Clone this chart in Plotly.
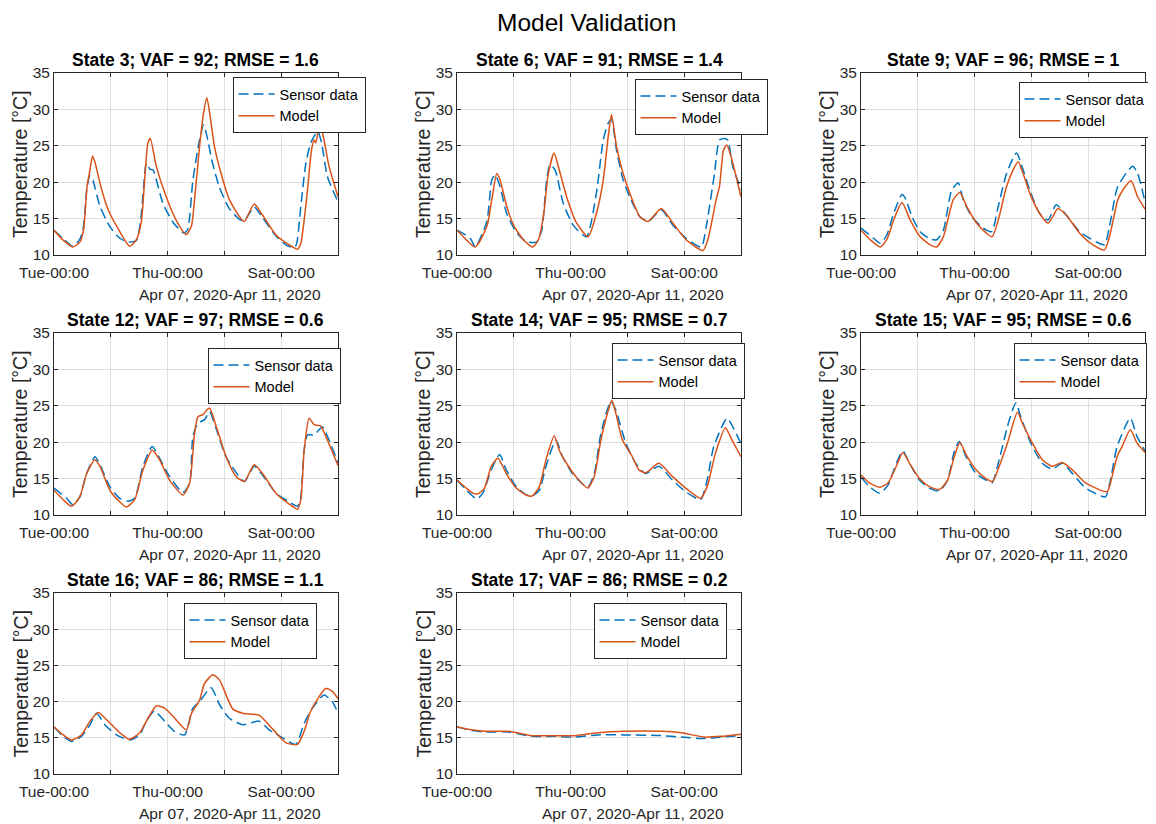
import pandas as pd
import plotly.graph_objects as go

# ---------------- data ----------------
states = [3, 6, 9, 12, 14, 15, 16, 17]
vaf = [92, 91, 96, 97, 95, 95, 86, 86]
rmse = [1.6, 1.4, 1, 0.6, 0.7, 0.6, 1.1, 0.2]

tick_days = ["2020-04-07", "2020-04-08", "2020-04-09", "2020-04-10", "2020-04-11"]
tick_text = ["Tue-00:00", "", "Thu-00:00", "", "Sat-00:00"]
y_ticks = [10, 15, 20, 25, 30, 35]
date_range_label = "Apr 07, 2020-Apr 11, 2020"

# hours since Tue Apr 07 2020 00:00, temperature in degC
s3_sensor_h = [0, 4, 8, 11, 12.5, 14, 15.2, 16.5, 19.4, 23.6, 27.8, 31.3, 34.8, 36.5, 37.8, 39, 40.5, 41.8, 46, 50.5, 55, 56.5, 58.7, 61.5, 63.2, 64.5, 67, 69.8, 74, 78.3, 80.4, 84.6, 88, 93.8, 98, 101.5, 102.5, 104.3, 106.4, 108.5, 111.4, 113, 115.5, 120]
s3_sensor_t = [13.4, 12.2, 11.2, 12.2, 14.0, 19.4, 20.9, 20.2, 16.7, 13.9, 12.3, 11.8, 12.0, 14.5, 19.0, 22.6, 21.8, 21.7, 17.1, 14.4, 13.0, 13.5, 20.3, 25.8, 27.9, 26.5, 22.6, 19.4, 16.4, 14.9, 14.7, 16.6, 15.2, 12.6, 11.4, 11.0, 11.5, 16.7, 22.6, 25.4, 27.0, 25.5, 20.8, 17.3]
s3_model_h = [0, 4, 8, 11, 12.5, 14, 15, 16.3, 17.5, 19.4, 21.5, 23.6, 27.8, 30, 32, 34.8, 36.9, 38.3, 39.7, 40.7, 43.2, 47.4, 51.6, 55.9, 58, 59.4, 61.5, 63.2, 64.6, 66, 67.8, 70.6, 74.1, 78.3, 80.4, 84.6, 88.1, 93.8, 99.4, 102.9, 104.3, 105.7, 107.1, 108.8, 109.9, 110.6, 112.3, 114.1, 116.2, 120]
s3_model_t = [13.4, 12.0, 11.1, 11.8, 13.5, 19.5, 21.3, 23.6, 22.5, 19.9, 17.5, 15.7, 13.2, 12.0, 11.2, 12.1, 14.6, 20.3, 25.4, 26.0, 22.2, 18.0, 14.8, 12.8, 13.9, 17.6, 24.9, 29.5, 31.6, 29.0, 24.9, 21.2, 17.6, 15.3, 14.6, 17.0, 15.5, 12.75, 11.4, 10.8, 11.6, 14.8, 18.9, 24.4, 25.8, 25.4, 28.1, 25.8, 22.2, 18.0]

s6_sensor_h = [0, 5.6, 7.7, 12.6, 14.7, 16.1, 18.2, 21, 25.3, 29.5, 33.7, 35.8, 37.9, 39.3, 41.4, 44.9, 49.1, 54.7, 58.9, 61.8, 63.9, 65.3, 67.4, 70.2, 73, 77.2, 80.7, 86.3, 91.2, 96.8, 103.2, 105.3, 108.8, 110.9, 113, 114.4, 116.5, 120]
s6_sensor_t = [13.4, 12.3, 11.1, 14.6, 20.3, 21.0, 19.4, 15.7, 13.0, 11.8, 11.8, 13.4, 20.3, 22.4, 21.7, 17.1, 14.1, 12.5, 18.5, 25.8, 28.1, 28.6, 24.4, 20.3, 18.0, 15.3, 14.6, 16.2, 14.1, 12.3, 11.1, 13.9, 21.2, 25.8, 26.0, 25.8, 22.2, 19.0]
s6_model_h = [0, 3, 7.7, 12.6, 14.7, 16.8, 18.2, 21, 23.9, 28, 32, 34.4, 36.5, 38.6, 41, 42.8, 46.3, 50.5, 55.4, 58.9, 61.8, 63.9, 65.3, 67.4, 70.2, 73, 77.2, 80.7, 86.3, 91.2, 96.8, 103.9, 106, 109.5, 110.9, 112.6, 114, 115.8, 120]
s6_model_t = [13.4, 12.4, 11.1, 13.9, 17.6, 21.2, 20.3, 16.7, 14.1, 12.1, 11.1, 12.1, 15.3, 21.2, 24.0, 22.2, 18.0, 14.4, 12.5, 15.7, 20.3, 26.3, 29.3, 24.9, 21.2, 18.5, 15.3, 14.6, 16.4, 14.4, 12.1, 10.6, 12.1, 17.6, 19.4, 24.4, 25.1, 23.5, 18.0]

s9_sensor_h = [0, 5.3, 8.1, 10.9, 13.8, 17.3, 18.7, 21.5, 25, 29.2, 32, 34.8, 38.3, 41.1, 43.2, 46.7, 51.6, 55.2, 58, 61.5, 65.7, 68.5, 71.3, 75.5, 79, 82.5, 86.7, 92.4, 99.4, 102.9, 105, 108.5, 114.8, 116.9, 120]
s9_sensor_t = [13.7, 12.3, 11.6, 12.75, 15.7, 18.3, 17.8, 15.3, 13.2, 12.2, 12.1, 13.4, 18.9, 19.9, 17.6, 15.3, 13.7, 13.2, 16.7, 21.2, 24.0, 21.7, 18.9, 15.7, 14.8, 16.9, 15.5, 13.2, 11.8, 11.4, 13.9, 19.4, 22.2, 21.2, 17.3]
s9_model_h = [0, 3.9, 8.1, 10.9, 13.8, 17.3, 20.8, 25, 29.2, 32, 34.8, 39, 41.8, 44.6, 48.8, 53, 55.4, 58, 61.5, 64.3, 66.4, 68.5, 71.3, 75.5, 79, 81.1, 83.2, 86.7, 92.4, 98, 102.9, 105, 108.5, 110.6, 114.1, 116.9, 120]
s9_model_t = [13.4, 12.1, 11.1, 12.1, 14.8, 17.2, 14.8, 12.5, 11.4, 11.1, 12.5, 17.6, 18.6, 16.7, 14.4, 13.0, 12.5, 14.8, 19.4, 21.7, 22.8, 21.2, 18.5, 15.7, 14.4, 15.3, 16.4, 15.5, 13.0, 11.4, 10.7, 12.5, 17.6, 18.9, 20.2, 18.0, 16.3]

s12_sensor_h = [0, 5.3, 8.1, 10.9, 13.8, 17.3, 19.4, 23.6, 27.8, 31.3, 34.1, 37.6, 41.5, 44.6, 48.8, 54.5, 57.3, 58.7, 60.8, 63.6, 65.7, 68.5, 72.7, 80.4, 84.6, 88.1, 93.8, 99.4, 102.9, 104.3, 105.7, 107.1, 109.9, 113.4, 116.2, 120]
s12_sensor_t = [13.7, 12.3, 11.4, 12.5, 15.7, 18.0, 16.9, 13.9, 12.3, 11.9, 12.3, 16.7, 19.4, 17.8, 15.3, 13.1, 14.4, 20.8, 22.6, 23.1, 24.2, 21.9, 18.0, 14.6, 16.7, 15.5, 13.0, 11.8, 11.2, 12.5, 18.9, 21.0, 21.0, 22.1, 20.3, 17.2]
s12_model_h = [0, 3.9, 7.4, 10.9, 13.8, 17.3, 19.4, 23.6, 27.8, 30.6, 34.1, 37.6, 41.5, 44.6, 48.8, 54.5, 57.3, 59.4, 60.8, 62.9, 65.7, 68.5, 72.7, 76.9, 80.4, 84.6, 88.1, 93.8, 99.4, 102.9, 104.3, 105.7, 107.8, 109.9, 112.7, 115.5, 120]
s12_model_t = [13.4, 12.1, 11.2, 12.5, 15.7, 17.6, 16.7, 13.4, 11.8, 11.1, 12.1, 16.2, 18.9, 17.6, 14.8, 12.75, 14.4, 21.2, 23.5, 23.8, 24.7, 22.2, 18.0, 15.3, 14.6, 16.9, 15.7, 13.0, 11.5, 10.8, 12.1, 18.9, 23.3, 22.4, 22.2, 20.3, 16.8]

s14_sensor_h = [0, 5.3, 8.4, 10.9, 14.5, 18, 20.8, 25, 29.2, 31.7, 34.8, 37.6, 41.8, 44.6, 48.8, 55.2, 58, 60.8, 65, 67.1, 71.3, 75.5, 79.7, 85.3, 91, 96.6, 102.9, 105.7, 108.5, 114.1, 116.9, 120]
s14_sensor_t = [14.8, 13.0, 12.2, 13.0, 16.2, 18.3, 16.2, 13.9, 12.8, 12.6, 13.4, 16.7, 20.3, 18.0, 15.7, 13.8, 15.7, 21.2, 25.6, 24.4, 19.9, 17.1, 15.7, 16.7, 14.8, 13.2, 12.1, 14.8, 19.4, 23.3, 21.9, 19.8]
s14_model_h = [0, 3.9, 6.7, 8.8, 11.6, 14.5, 17.3, 20.8, 25, 29.2, 31.7, 34.8, 37.6, 41.1, 43.2, 46.7, 50.2, 55.2, 58, 60.8, 63.6, 65.4, 67.1, 69.9, 74.1, 76.9, 79.7, 85.3, 91, 96.6, 102.9, 105.7, 109.2, 113.4, 116.2, 120]
s14_model_t = [14.8, 13.7, 13.0, 12.9, 13.7, 16.7, 17.8, 15.7, 13.7, 12.75, 12.6, 13.9, 17.6, 20.9, 18.9, 16.9, 15.3, 13.7, 15.3, 20.3, 24.0, 25.8, 24.0, 20.3, 18.0, 16.2, 15.8, 17.1, 15.3, 13.7, 12.3, 13.9, 18.5, 22.0, 20.3, 18.0]

s15_sensor_h = [0, 3.6, 7.9, 11.4, 14.9, 17.7, 20.5, 24.7, 28.9, 33.1, 36.6, 39.4, 41.5, 44.4, 48.6, 52.8, 55.3, 58.4, 61.9, 65.4, 67.5, 71.7, 76.6, 80.8, 85, 89.3, 94.9, 103.3, 105.4, 108.2, 113.8, 116.6, 120]
s15_sensor_t = [15.2, 13.9, 13.0, 14.1, 17.1, 18.8, 17.1, 14.8, 13.7, 13.3, 14.8, 18.7, 20.1, 18.0, 15.7, 14.8, 14.4, 17.6, 22.2, 25.4, 23.5, 19.9, 17.1, 16.3, 17.1, 15.7, 13.7, 12.5, 14.8, 19.4, 23.3, 20.8, 18.8]
s15_model_h = [0, 3.6, 7.9, 11.4, 14.9, 17.7, 20.5, 24.7, 28.9, 33.1, 36.6, 39.4, 41.8, 44.4, 48.6, 52.8, 55.6, 58.4, 61.9, 66.1, 68.2, 71.7, 76.6, 80.8, 85, 89.3, 94.9, 104, 105.4, 108.2, 110.3, 113.8, 116.6, 120]
s15_model_t = [15.5, 14.4, 13.8, 14.4, 16.7, 18.6, 17.1, 15.0, 13.9, 13.5, 14.8, 18.0, 19.95, 18.3, 16.2, 15.0, 14.6, 16.7, 19.9, 24.1, 22.6, 20.3, 17.6, 16.7, 17.2, 16.2, 14.4, 13.2, 14.4, 18.0, 19.4, 21.7, 19.9, 18.6]

s16_sensor_h = [0, 3.9, 7.4, 11.6, 15.2, 18, 21.5, 26.4, 32, 36.2, 39, 42.5, 46.7, 50.9, 55.2, 58.7, 61.5, 66.4, 69.9, 74.1, 79.7, 86.7, 90.9, 96.6, 102.2, 105.7, 109.2, 114.1, 117.6, 120]
s16_sensor_t = [16.5, 15.2, 14.5, 15.2, 16.8, 18.4, 16.8, 15.4, 14.7, 15.4, 17.3, 18.7, 17.3, 15.9, 15.4, 19.1, 20.0, 21.9, 19.6, 17.7, 16.8, 17.3, 16.1, 15.0, 14.1, 17.0, 19.1, 20.9, 20.0, 18.4]
s16_model_h = [0, 3.9, 7.4, 11.6, 15.2, 18.7, 22.2, 27.8, 32, 36.2, 39.7, 43.2, 46.7, 50.2, 55.9, 58, 61.5, 63.6, 67.1, 69.9, 75.5, 79.7, 86.7, 92.4, 98, 102.9, 105.7, 108.5, 114.8, 117.6, 120]
s16_model_t = [16.5, 15.4, 14.7, 15.4, 17.3, 18.5, 17.5, 15.7, 14.8, 15.7, 17.7, 19.4, 19.1, 18.0, 16.1, 18.3, 20.2, 22.5, 23.7, 23.0, 19.0, 18.4, 18.1, 16.2, 14.3, 14.1, 15.9, 18.7, 21.8, 21.4, 20.4]

s17_sensor_h = [0, 6.3, 11.9, 21.8, 31.6, 41.4, 49.8, 59.6, 70.9, 86.3, 94.7, 104.6, 111.6, 120]
s17_sensor_t = [16.5, 16.0, 15.8, 15.8, 15.2, 15.2, 15.1, 15.4, 15.4, 15.3, 15.1, 14.9, 15.1, 15.3]
s17_model_h = [0, 6.3, 11.9, 21.8, 31.6, 41.4, 49.8, 59.6, 70.9, 86.3, 94.7, 104.6, 111.6, 120]
s17_model_t = [16.5, 16.1, 15.9, 15.9, 15.3, 15.3, 15.3, 15.7, 15.9, 15.9, 15.7, 15.1, 15.2, 15.5]

sensor_series = [(s3_sensor_h, s3_sensor_t), (s6_sensor_h, s6_sensor_t), (s9_sensor_h, s9_sensor_t),
                 (s12_sensor_h, s12_sensor_t), (s14_sensor_h, s14_sensor_t), (s15_sensor_h, s15_sensor_t),
                 (s16_sensor_h, s16_sensor_t), (s17_sensor_h, s17_sensor_t)]
model_series = [(s3_model_h, s3_model_t), (s6_model_h, s6_model_t), (s9_model_h, s9_model_t),
                (s12_model_h, s12_model_t), (s14_model_h, s14_model_t), (s15_model_h, s15_model_t),
                (s16_model_h, s16_model_t), (s17_model_h, s17_model_t)]

# ---------------- layout constants (window pixels) ----------------
WIN_W, WIN_H = 1156, 824
OFF = 8                      # page body margin in front of the figure
W, H = WIN_W - OFF, WIN_H - OFF
BASE = pd.Timestamp("2020-04-07 00:00")
X_END = BASE + pd.Timedelta(hours=120)
col_px = [(54, 338), (457, 741), (861, 1145)]
row_px = [(73, 255), (333, 515), (593, 774)]
legend_px = [(299, 77), (701, 79), (1085, 82), (274, 348), (678, 343), (1080, 343), (250, 603), (660, 603)]

FONT = "Liberation Sans, Arial, Helvetica, sans-serif"
AX = "#262626"
GRID = "#dfdfdf"
BLUE = "#0072BD"
ORANGE = "#D95319"
TICK_SIZE = 15.5


def px_x(p):
    return (p - OFF) / W


def px_y(p):
    return 1 - (p - OFF) / H


fig = go.Figure()
annotations = []
layout = dict(
    width=W, height=H,
    margin=dict(l=0, r=0, t=0, b=0, autoexpand=False),
    paper_bgcolor="white", plot_bgcolor="white",
    font=dict(family=FONT, color=AX),
    showlegend=True,
)

for i, st in enumerate(states):
    r, c = divmod(i, 3)
    n = i + 1
    xa = "x" if n == 1 else f"x{n}"
    ya = "y" if n == 1 else f"y{n}"
    lg = "legend" if n == 1 else f"legend{n}"
    x0, x1 = col_px[c]
    y0, y1 = row_px[r]

    sh, stemp = sensor_series[i]
    mh, mtemp = model_series[i]
    fig.add_trace(go.Scatter(
        x=BASE + pd.to_timedelta(sh, unit="h"), y=stemp, mode="lines",
        name="Sensor data", legend=lg, xaxis=xa, yaxis=ya,
        line=dict(color=BLUE, width=1.5, dash="10px,5px", shape="spline", smoothing=0.6),
    ))
    fig.add_trace(go.Scatter(
        x=BASE + pd.to_timedelta(mh, unit="h"), y=mtemp, mode="lines",
        name="Model", legend=lg, xaxis=xa, yaxis=ya,
        line=dict(color=ORANGE, width=1.5, shape="spline", smoothing=0.6),
    ))

    xkey = "xaxis" if n == 1 else f"xaxis{n}"
    ykey = "yaxis" if n == 1 else f"yaxis{n}"
    layout[xkey] = dict(
        type="date", domain=[px_x(x0), px_x(x1)], anchor=ya,
        range=[BASE, X_END],
        tickvals=tick_days, ticktext=tick_text,
        ticks="inside", ticklen=4, tickcolor=AX, tickwidth=1,
        showline=True, linecolor=AX, linewidth=1, mirror="ticks",
        showgrid=True, gridcolor=GRID, gridwidth=1, zeroline=False,
        tickfont=dict(family=FONT, size=TICK_SIZE, color=AX),
        ticklabelstandoff=3,
    )
    layout[ykey] = dict(
        domain=[px_y(y1), px_y(y0)], anchor=xa,
        range=[10, 35], tickvals=y_ticks,
        ticks="inside", ticklen=4, tickcolor=AX, tickwidth=1,
        showline=True, linecolor=AX, linewidth=1, mirror="ticks",
        showgrid=True, gridcolor=GRID, gridwidth=1, zeroline=False,
        tickfont=dict(family=FONT, size=TICK_SIZE, color=AX),
    )
    lx, ly = legend_px[i]
    layout[lg] = dict(
        x=px_x(lx), y=px_y(ly), xanchor="center", yanchor="top",
        xref="paper", yref="paper",
        bgcolor="white", bordercolor=AX, borderwidth=1,
        font=dict(family=FONT, size=14.5, color="black"),
        tracegroupgap=0, itemwidth=36,
    )

    # subplot title
    annotations.append(dict(
        text=f"<b>State {st}; VAF = {vaf[i]}; RMSE = {rmse[i]:g}</b>",
        x=px_x((x0 + x1) / 2), y=px_y(y0 - 13), xref="paper", yref="paper",
        xanchor="center", yanchor="middle", showarrow=False,
        font=dict(family=FONT, size=17.5, color="black"),
    ))
    # y-axis title
    annotations.append(dict(
        text="Temperature [°C]", textangle=-90,
        x=px_x(x0 - 34), y=px_y((y0 + y1) / 2), xref="paper", yref="paper",
        xanchor="center", yanchor="middle", showarrow=False,
        font=dict(family=FONT, size=19.5, color=AX),
    ))
    # date range secondary label
    annotations.append(dict(
        text=date_range_label,
        x=px_x(x1 - 15), y=px_y(y1 + 39), xref="paper", yref="paper",
        xanchor="right", yanchor="middle", showarrow=False,
        font=dict(family=FONT, size=TICK_SIZE, color=AX),
    ))

annotations.append(dict(
    text="Model Validation", x=px_x(586), y=px_y(22), xref="paper", yref="paper",
    xanchor="center", yanchor="middle", showarrow=False,
    font=dict(family=FONT, size=24.5, color="black"),
))
layout["annotations"] = annotations
fig.update_layout(**layout)
fig.write_html("out.html")
